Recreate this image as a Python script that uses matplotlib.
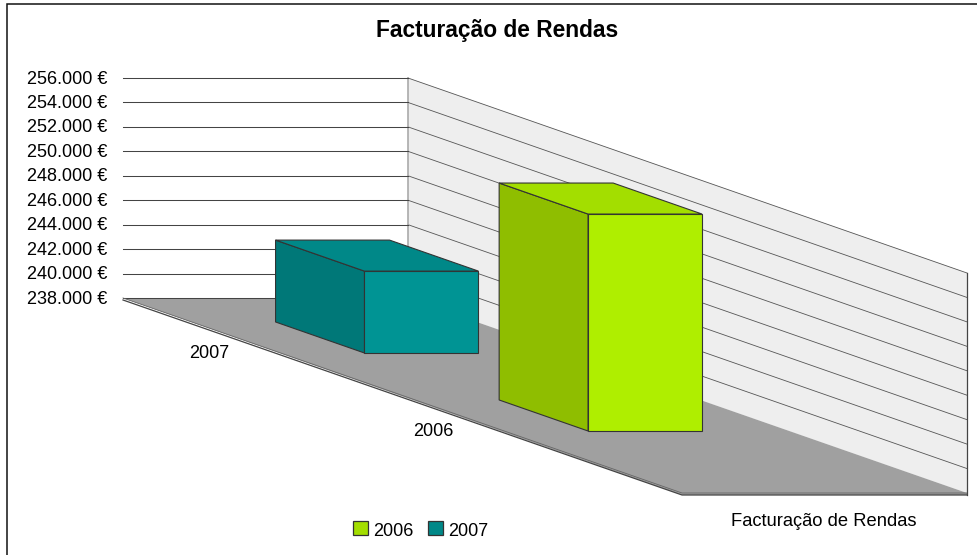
import matplotlib
matplotlib.use("Agg")
import matplotlib.pyplot as plt
from matplotlib.patches import Polygon, Rectangle

W, H = 977, 555
FONT = "Liberation Sans"

title = "Facturação de Rendas"
series_label = "Facturação de Rendas"
categories = ["2007", "2006"]
values = [244700, 255750]
ticks = [238000, 240000, 242000, 244000, 246000, 248000, 250000, 252000, 254000, 256000]
legend_names = ["2006", "2007"]

colors = {
    "2006": ("#AFEE00", "#8FBE00", "#A3DE00"),
    "2007": ("#009494", "#007878", "#008888"),
}
bar_spans = [(0.123, 0.282), (0.523, 0.682)]
label_pos = [0.2, 0.6]


def project(u, v, val):
    # u runs along the category axis, v into the depth of the floor
    x = 123 + 559 * u + 285 * v
    y = 298 + 195 * u - (val - ticks[0]) * 220 / (ticks[-1] - ticks[0])
    return x, y


def poly(ax, pts, fc, ec="#333333", lw=0.8, z=2):
    ax.add_patch(Polygon(pts, closed=True, facecolor=fc, edgecolor=ec, linewidth=lw, zorder=z))


def fmt(v):
    return f"{v:,.0f} €".replace(",", ".")


def draw_bar(ax, span, val, cols, z):
    u0, u1 = span
    v0, v1 = 0.294, 0.694
    base = ticks[0]
    front, side, top = cols
    poly(ax, [project(u1, v0, base), project(u1, v1, base), project(u1, v1, val), project(u1, v0, val)], front, z=z)
    poly(ax, [project(u0, v0, base), project(u1, v0, base), project(u1, v0, val), project(u0, v0, val)], side, z=z)
    poly(ax, [project(u0, v0, val), project(u1, v0, val), project(u1, v1, val), project(u0, v1, val)], top, z=z)


fig = plt.figure(figsize=(W / 100, H / 100), dpi=100)
ax = fig.add_axes([0, 0, 1, 1])
ax.set_xlim(0, W)
ax.set_ylim(H, 0)
ax.axis("off")

# only the top and left of the outer frame are inside the picture
ax.plot([6.5, 6.5, W], [H, 3.5, 3.5], color="#111111", lw=1.1, zorder=0.5, solid_joinstyle="miter")

# back wall
poly(ax, [project(0, 1, ticks[0]), project(1, 1, ticks[0]), project(1, 1, ticks[-1]), project(0, 1, ticks[-1])],
     "#EEEEEE", ec="none", lw=0, z=1)

# floor, with its thin front edge
x0, y0 = project(0, 0, ticks[0])
x1, y1 = project(1, 0, ticks[0])
x2, y2 = project(1, 1, ticks[0])
poly(ax, [(x0, y0), (x1, y1 + 2), (x2, y2 + 2), (x2, y2), project(0, 1, ticks[0])],
     "#A0A0A0", ec="none", lw=0, z=1.2)
ax.plot([x0, x1, x2], [y0, y1, y2], color="#666666", lw=0.6, zorder=1.3)
ax.plot([x0, x1, x2], [y0 + 2, y1 + 2, y2 + 2], color="#444444", lw=0.9, zorder=1.3)

for t in ticks:
    xa, ya = project(0, 0, t)
    xb, yb = project(0, 1, t)
    xc, yc = project(1, 1, t)
    ax.plot([xa, xb], [ya, yb], color="#444444", lw=0.75, zorder=1.25)
    if t > ticks[0]:
        ax.plot([xb, xc], [yb, yc], color="#555555", lw=0.6, zorder=1.1)
    ax.text(xa - 16, ya + 1, fmt(t), ha="right", va="center", fontsize=13, family=FONT, color="black", zorder=5)

# wall side edges
xb, yb = project(0, 1, ticks[0])
xt, yt = project(0, 1, ticks[-1])
ax.plot([xb, xt], [yb, yt], color="#AAAAAA", lw=1.2, zorder=1.15)
xb, yb = project(1, 1, ticks[0])
xt, yt = project(1, 1, ticks[-1])
ax.plot([xb, xt], [yb + 2, yt], color="#444444", lw=0.9, zorder=1.3)

for i, (cat, val) in enumerate(zip(categories, values)):
    draw_bar(ax, bar_spans[i], val, colors[cat], z=2 + i)
    lx, ly = project(label_pos[i], 0, ticks[0])
    ax.text(lx - 25.5, ly + 17, cat, ha="center", va="center", fontsize=13, family=FONT, color="black", zorder=5)

ax.text(497.5, 31, title, ha="center", va="center", fontsize=16.4, fontweight="bold", family=FONT, color="black")
ax.text(824, 521, series_label, ha="center", va="center", fontsize=13.2, family=FONT, color="black")

legend_x = [353, 428]
for name, lx in zip(legend_names, legend_x):
    ax.add_patch(Rectangle((lx, 521), 14.5, 13.5, facecolor=colors[name][2], edgecolor="#333333", linewidth=0.9, zorder=5))
    ax.text(lx + 20.5, 531, name, ha="left", va="center", fontsize=13, family=FONT, color="black")

fig.savefig("out.png", dpi=100)
